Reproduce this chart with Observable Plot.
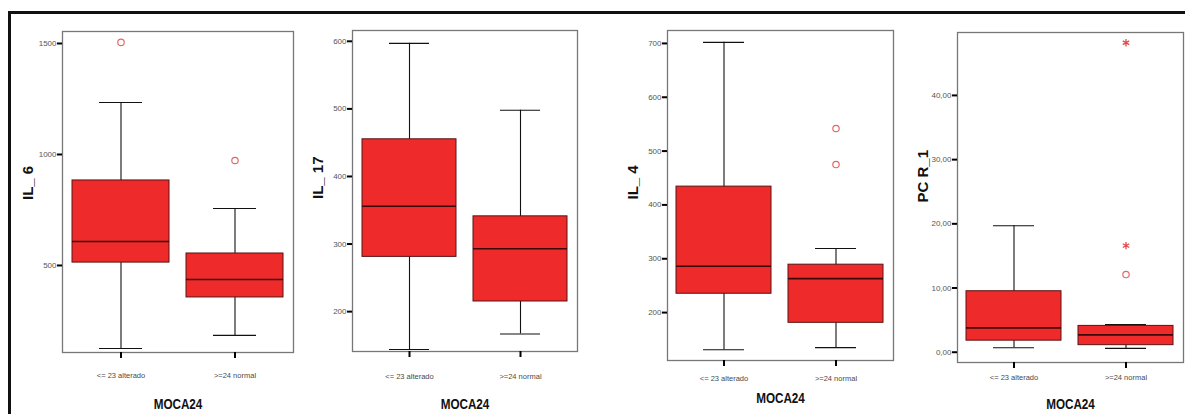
<!DOCTYPE html>
<html>
<head>
<meta charset="utf-8">
<script src="https://cdn.jsdelivr.net/npm/d3@7"></script>
<script src="https://cdn.jsdelivr.net/npm/@observablehq/plot@0.6"></script>
<style>
  html, body { margin: 0; padding: 0; background: #fff; }
  #wrap { position: relative; width: 1185px; height: 414px; overflow: hidden; background: #fff; }
  #border { position: absolute; left: 8px; top: 11px; right: -10px; bottom: -10px;
            border-top: 3px solid #111; border-left: 3px solid #111; }
  .panel { position: absolute; top: 0; }
</style>
</head>
<body>
<div id="wrap"><div id="border"></div></div>
<script>
// ---- data ----
const categories = ["<= 23 alterado", ">=24 normal"];
const xTitle = "MOCA24";

const il6Min = [126, 185], il6Q1 = [513, 356], il6Med = [608, 437], il6Q3 = [883, 554], il6Max = [1234, 757];
const il6OutCat = [0, 1], il6OutVal = [1505, 973];
const il6Ticks = [500, 1000, 1500];

const il17Min = [144, 167], il17Q1 = [281, 215], il17Med = [356, 293], il17Q3 = [455, 341], il17Max = [597, 498];
const il17Ticks = [200, 300, 400, 500, 600];

const il4Min = [131, 135], il4Q1 = [235, 181], il4Med = [286, 263], il4Q3 = [434, 289], il4Max = [702, 319];
const il4OutCat = [1, 1], il4OutVal = [542, 475];
const il4Ticks = [200, 300, 400, 500, 600, 700];

const pcrMin = [0.7, 0.6], pcrQ1 = [1.8, 1.1], pcrMed = [3.8, 2.7], pcrQ3 = [9.5, 4.1], pcrMax = [19.7, 4.3];
const pcrOutCat = [1], pcrOutVal = [12.1];
const pcrStarCat = [1, 1], pcrStarVal = [48.2, 16.6];
const pcrTicks = [0, 10, 20, 30, 40];

// ---- helpers ----
function rows(mn, q1, md, q3, mx) {
  return categories.map((c, i) => ({cat: c, min: mn[i], q1: q1[i], med: md[i], q3: q3[i], max: mx[i]}));
}
function pts(cats, vals) {
  return cats.map((c, i) => ({cat: categories[c], v: vals[i]}));
}

const FONT = "'Liberation Sans', Arial, sans-serif";

function panel(cfg) {
  const H = 414;
  const ML = 62, MR = 2;
  const width = cfg.frameRight - cfg.frameLeft + ML + MR;
  const data = cfg.data;
  const marks = [
    Plot.ruleX(data, {x: "cat", y1: "min", y2: "max", stroke: "#111", strokeWidth: 1.1}),
    Plot.tickY(data, {x: "cat", y: "min", insetLeft: 27, insetRight: 27, stroke: "#111", strokeWidth: 1.1}),
    Plot.tickY(data, {x: "cat", y: "max", insetLeft: 27, insetRight: 27, stroke: "#111", strokeWidth: 1.1}),
    Plot.barY(data, {x: "cat", y1: "q1", y2: "q3", fill: "#ee2a2a", stroke: "#5a1212", strokeWidth: 1}),
    Plot.tickY(data, {x: "cat", y: "med", stroke: "#3a0808", strokeWidth: 1.6}),
    Plot.frame({stroke: "#777", strokeWidth: 1.3}),
    Plot.axisY({ticks: cfg.ticks, tickFormat: cfg.tickFormat, tickSize: 5, tickPadding: 1,
                stroke: "#000", strokeWidth: 2, fill: "#555", fontSize: 8, label: null}),
    Plot.axisX({tickSize: 6, tickPadding: cfg.xPad, stroke: "#000", strokeWidth: 2,
                fill: "#4a4a4a", fontSize: 7.5, label: null}),
    Plot.text([cfg.label], {text: d => d, frameAnchor: "left", dx: -34, dy: cfg.yLabelDy, rotate: -90,
                fontSize: 15, fontWeight: "bold", fill: "#111", fontFamily: FONT}),
    Plot.text([xTitle], {text: d => d, frameAnchor: "bottom", dy: cfg.moca - cfg.frameBottom,
                lineAnchor: "middle", fontSize: 15, fontWeight: "bold", fill: "#111", fontFamily: FONT})
  ];
  if (cfg.circles) marks.push(Plot.dot(cfg.circles, {x: "cat", y: "v", r: 3.2, stroke: "#e06a6a", fill: "none", strokeWidth: 1.2}));
  if (cfg.stars) marks.push(Plot.dot(cfg.stars, {x: "cat", y: "v", symbol: "asterisk", r: 3.5, stroke: "#e04a4a", strokeWidth: 1.3}));
  const svg = Plot.plot({
    width, height: H,
    marginLeft: ML, marginRight: MR,
    marginTop: cfg.frameTop, marginBottom: H - cfg.frameBottom,
    style: {fontFamily: FONT, background: "transparent", overflow: "visible"},
    x: {domain: categories, paddingInner: 0.15, paddingOuter: 0.08, axis: null},
    y: {domain: cfg.domain, axis: null},
    marks
  });
  // condense the bold x-axis title like the narrow original
  d3.select(svg).selectAll("text").filter(function() { return this.textContent === xTitle; })
    .each(function() {
      const el = d3.select(this);
      const t = el.attr("transform");
      if (t) {
        el.attr("transform", t + " scale(0.78,1)");
      } else {
        const x = +el.attr("x") || 0, y = +el.attr("y") || 0;
        el.attr("x", null).attr("y", null).attr("transform", `translate(${x},${y}) scale(0.78,1)`);
      }
    });
  svg.classList.add("panel");
  svg.style.left = (cfg.frameLeft - ML) + "px";
  document.getElementById("wrap").appendChild(svg);
}

panel({
  label: "IL_ 6", frameLeft: 62, frameRight: 293, frameTop: 31, frameBottom: 352,
  domain: [108, 1554], ticks: il6Ticks, tickFormat: d => String(d),
  data: rows(il6Min, il6Q1, il6Med, il6Q3, il6Max), circles: pts(il6OutCat, il6OutVal),
  xPad: 14, moca: 404, yLabelDy: 8
});
panel({
  label: "IL_ 17", frameLeft: 352, frameRight: 577, frameTop: 30, frameBottom: 351,
  domain: [141, 616], ticks: il17Ticks, tickFormat: d => String(d),
  data: rows(il17Min, il17Q1, il17Med, il17Q3, il17Max),
  xPad: 16, moca: 404, yLabelDy: 8
});
panel({
  label: "IL_ 4", frameLeft: 667, frameRight: 893, frameTop: 30, frameBottom: 360,
  domain: [111, 724], ticks: il4Ticks, tickFormat: d => String(d),
  data: rows(il4Min, il4Q1, il4Med, il4Q3, il4Max), circles: pts(il4OutCat, il4OutVal),
  xPad: 9, moca: 398, yLabelDy: 4
});
panel({
  label: "PC R_1", frameLeft: 957, frameRight: 1183, frameTop: 32, frameBottom: 362,
  domain: [-1.6, 49.8], ticks: pcrTicks, tickFormat: d => d.toFixed(2).replace(".", ","),
  data: rows(pcrMin, pcrQ1, pcrMed, pcrQ3, pcrMax), circles: pts(pcrOutCat, pcrOutVal),
  stars: pts(pcrStarCat, pcrStarVal),
  xPad: 6, moca: 404, yLabelDy: 5
});
</script>
</body>
</html>
